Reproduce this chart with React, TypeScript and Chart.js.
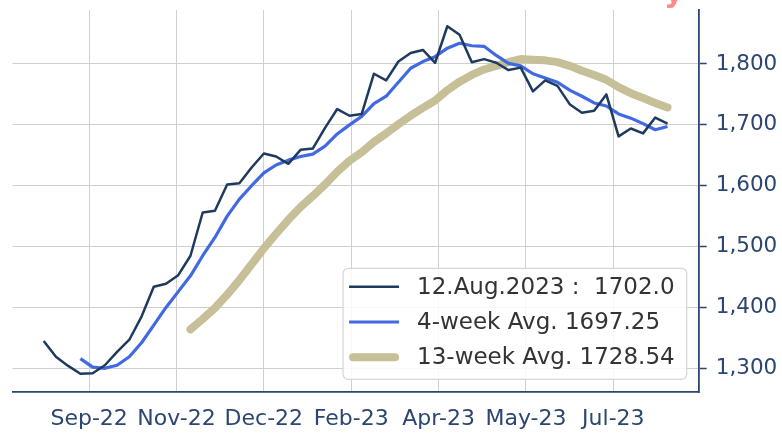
import React, { useEffect, useRef } from "react";
import { Chart, registerables } from "chart.js";

Chart.register(...registerables);

// ---- data (weekly) ----
const FIRST_WEEK = "2022-08-20";

const actual = [
  1345, 1319, 1304, 1291, 1292, 1305, 1327, 1347, 1385, 1434, 1439, 1453, 1485,
  1556, 1559, 1602, 1604, 1630, 1653, 1648, 1636, 1659, 1661, 1695, 1726, 1715,
  1718, 1784, 1773, 1804, 1818, 1823, 1802, 1862, 1848, 1803, 1808, 1802, 1790,
  1794, 1755, 1773, 1764, 1734, 1720, 1723, 1750, 1681, 1694, 1686, 1712, 1702.0,
];

const AVG4_START = 3;
const avg4 = [
  1316, 1302, 1300, 1305, 1319, 1342, 1371, 1400, 1426, 1452, 1485, 1515, 1550,
  1578, 1600, 1621, 1634, 1642, 1648, 1652, 1665, 1685, 1700, 1714, 1735, 1747,
  1770, 1793, 1804, 1812, 1826, 1834, 1830, 1829, 1814, 1801, 1797, 1784, 1777,
  1770, 1757, 1747, 1736, 1731, 1718, 1711, 1702, 1692, 1697.25,
];

const AVG13_START = 12;
const avg13 = [
  1364, 1381, 1399, 1421, 1445, 1471, 1497, 1521, 1544, 1565, 1583, 1602, 1623,
  1641, 1655, 1672, 1686, 1701, 1715, 1728, 1740, 1757, 1771, 1782, 1791, 1797,
  1803, 1808, 1807, 1806, 1803, 1797, 1789, 1782, 1774, 1762, 1752, 1744, 1736,
  1728.54,
];

const yTickValues = [1300, 1400, 1500, 1600, 1700, 1800];
const X_TICK_STEP_DAYS = 50;

// ---- helpers ----
const DAY_MS = 86400000;
const MONTHS = ["Jan", "Feb", "Mar", "Apr", "May", "Jun", "Jul", "Aug", "Sep", "Oct", "Nov", "Dec"];
const dayNumber = (iso: string) => Date.parse(iso + "T00:00:00Z") / DAY_MS;
const fmtMonth = (day: number) => {
  const d = new Date(Math.round(day) * DAY_MS);
  return MONTHS[d.getUTCMonth()] + "-" + String(d.getUTCFullYear() % 100).padStart(2, "0");
};
const fmtFull = (day: number) => {
  const d = new Date(Math.round(day) * DAY_MS);
  return d.getUTCDate() + "." + MONTHS[d.getUTCMonth()] + "." + d.getUTCFullYear();
};

const weekDays = actual.map((_, i) => dayNumber(FIRST_WEEK) + 7 * i);

const NAVY = "#2b4670";
const GRID = "#cfcfcf";
const FONT = "'DejaVu Sans', 'Noto Sans', sans-serif";

const insetLegend = {
  id: "insetLegend",
  afterDraw(chart: any) {
    const ctx = chart.ctx;
    const ca = chart.chartArea;
    ctx.save();
    ctx.font = "23px " + FONT;
    const items = chart.data.datasets.map((ds: any) => ({
      label: ds.label,
      color: ds.borderColor,
      width: ds.borderWidth,
    }));
    const textW = Math.max(...items.map((it: any) => ctx.measureText(it.label).width));
    const padL = 6, handle = 50, gap = 18, padR = 12;
    const boxW = padL + handle + gap + textW + padR;
    const boxH = 111;
    const right = ca.right - 12;
    const bottom = ca.bottom - 13;
    const left = right - boxW;
    const top = bottom - boxH;
    ctx.beginPath();
    if (ctx.roundRect) ctx.roundRect(left, top, boxW, boxH, 5);
    else ctx.rect(left, top, boxW, boxH);
    ctx.fillStyle = "rgba(255,255,255,0.85)";
    ctx.fill();
    ctx.lineWidth = 1.2;
    ctx.strokeStyle = "#d6d6d6";
    ctx.stroke();
    items.forEach((it: any, i: number) => {
      const cy = top + 18.4 + i * 35.3;
      ctx.beginPath();
      ctx.lineCap = it.width > 5 ? "round" : "butt";
      ctx.strokeStyle = it.color;
      ctx.lineWidth = it.width;
      const x0 = left + padL + (it.width > 5 ? 4 : 0);
      const x1 = left + padL + handle - (it.width > 5 ? 4 : 0);
      ctx.moveTo(x0, cy);
      ctx.lineTo(x1, cy);
      ctx.stroke();
      ctx.fillStyle = "#333333";
      ctx.textBaseline = "middle";
      ctx.textAlign = "left";
      ctx.fillText(it.label, left + padL + handle + gap, cy + 1);
    });
    ctx.restore();
  },
};

const cornerMark = {
  id: "cornerMark",
  afterDraw(chart: any) {
    const ctx = chart.ctx;
    ctx.save();
    ctx.font = "bold 30px " + FONT;
    ctx.fillStyle = "#ff8a8a";
    ctx.textBaseline = "alphabetic";
    ctx.textAlign = "left";
    ctx.fillText("y", 664, 2);
    ctx.restore();
  },
};

export default function App() {
  const ref = useRef<HTMLCanvasElement | null>(null);

  useEffect(() => {
    if (!ref.current) return;
    const first = weekDays[0];
    const last = weekDays[weekDays.length - 1];
    const span = last - first;
    const xMin = first - 0.05 * span;
    const xMax = last + 0.05 * span;

    const lastDay = weekDays[weekDays.length - 1];
    const chart = new Chart(ref.current, {
      type: "line",
      data: {
        datasets: [
          {
            label: `${fmtFull(lastDay)} :  ${actual[actual.length - 1].toFixed(1)}`,
            data: actual.map((v, i) => ({ x: weekDays[i], y: v })),
            borderColor: "#1f3a5f",
            borderWidth: 2.5,
            pointRadius: 0,
            borderJoinStyle: "round",
            tension: 0,
          },
          {
            label: `4-week Avg. ${avg4[avg4.length - 1]}`,
            data: avg4.map((v, i) => ({ x: weekDays[i + AVG4_START], y: v })),
            borderColor: "#4169e1",
            borderWidth: 3.2,
            pointRadius: 0,
            borderJoinStyle: "round",
            tension: 0,
          },
          {
            label: `13-week Avg. ${avg13[avg13.length - 1]}`,
            data: avg13.map((v, i) => ({ x: weekDays[i + AVG13_START], y: v })),
            borderColor: "#c6bf98",
            borderWidth: 8,
            pointRadius: 0,
            borderCapStyle: "round",
            borderJoinStyle: "round",
            tension: 0,
          },
        ],
      },
      options: {
        animation: false,
        responsive: false,
        devicePixelRatio: 1,
        layout: { padding: { left: 12.5, top: 10, right: 0, bottom: 0 } },
        plugins: {
          legend: { display: false },
          tooltip: { enabled: false },
        },
        scales: {
          x: {
            type: "linear",
            position: "bottom",
            min: xMin,
            max: xMax,
            afterBuildTicks: (axis: any) => {
              const t: any[] = [];
              for (let v = Math.ceil(xMin / X_TICK_STEP_DAYS) * X_TICK_STEP_DAYS; v <= xMax; v += X_TICK_STEP_DAYS) {
                t.push({ value: v });
              }
              axis.ticks = t;
            },
            afterFit: (axis: any) => {
              axis.height = 41.7;
              axis.paddingLeft = 0;
              axis.paddingRight = 0;
            },
            grid: { color: GRID, lineWidth: 1, drawTicks: false },
            border: { display: true, color: NAVY, width: 1.8 },
            ticks: {
              color: NAVY,
              font: { family: FONT, size: 22 },
              padding: 14,
              maxRotation: 0,
              autoSkip: false,
              callback: (v: any) => fmtMonth(Number(v)),
            },
          },
          y: {
            type: "linear",
            position: "right",
            min: 1260.6,
            max: 1888.7,
            afterBuildTicks: (axis: any) => {
              axis.ticks = yTickValues.map((v) => ({ value: v }));
            },
            afterFit: (axis: any) => {
              axis.width = 83.3;
              axis.paddingTop = 0;
              axis.paddingBottom = 0;
            },
            grid: {
              color: GRID,
              lineWidth: 1,
              drawTicks: true,
              tickLength: 8,
              tickColor: NAVY,
              tickWidth: 1.5,
            },
            border: { display: true, color: NAVY, width: 1.8 },
            ticks: {
              color: NAVY,
              font: { family: FONT, size: 21.5 },
              padding: 9,
              callback: (v: any) => Number(v).toLocaleString("en-US"),
            },
          },
        },
      },
      plugins: [insetLegend, cornerMark],
    } as any);
    return () => chart.destroy();
  }, []);

  return (
    <div style={{ position: "absolute", left: 0, top: 0, width: 782, height: 434, background: "#fff" }}>
      <canvas ref={ref} width={782} height={434} style={{ display: "block", width: 782, height: 434 }} />
    </div>
  );
}
